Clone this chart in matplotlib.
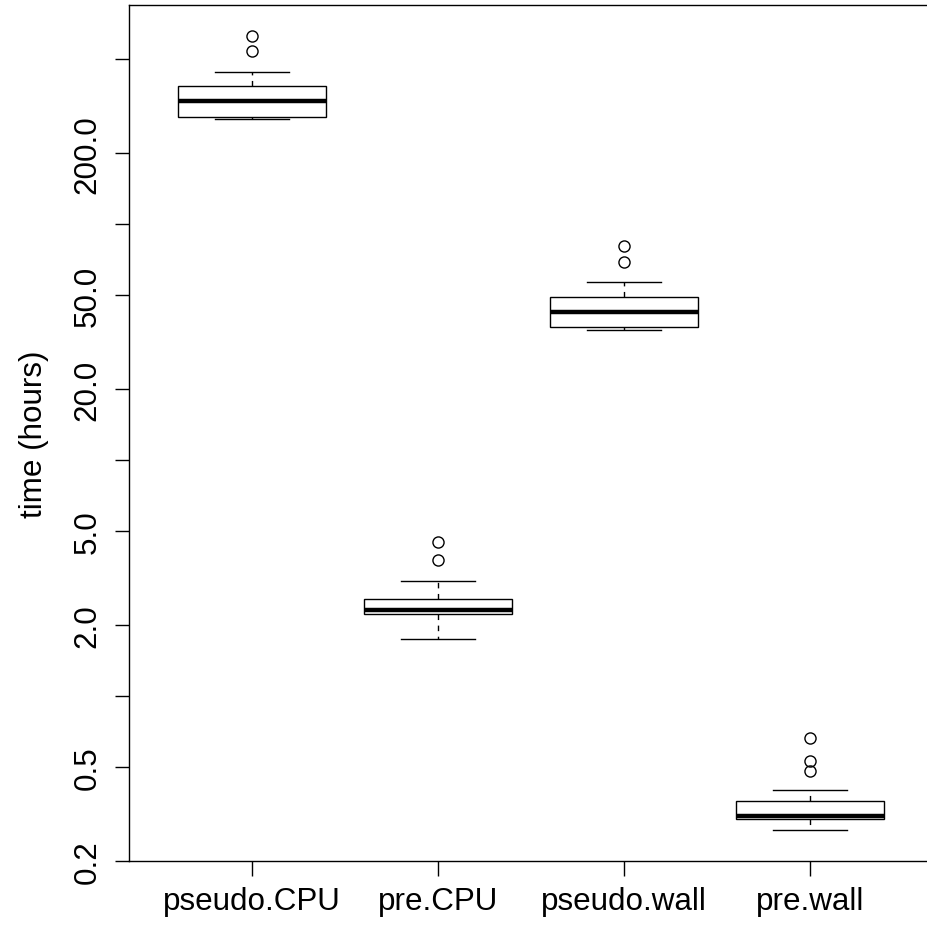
import matplotlib
matplotlib.use("Agg")
import matplotlib.pyplot as plt

plt.rcParams['font.family'] = ['Liberation Sans', 'DejaVu Sans']

groups = ["pseudo.CPU", "pre.CPU", "pseudo.wall", "pre.wall"]
medians = [334, 2.32, 42.5, 0.309]
q1 = [286, 2.23, 36.5, 0.300]
q3 = [386, 2.57, 49.2, 0.358]
whisker_low = [280, 1.74, 35.6, 0.270]
whisker_high = [443, 3.06, 57.1, 0.400]
outliers = [[541, 626], [3.76, 4.49], [69.0, 80.7], [0.481, 0.531, 0.666]]

ytick_vals = [0.2, 0.5, 1, 2, 5, 10, 20, 50, 100, 200, 500]
ytick_labels = ["0.2", "0.5", "", "2.0", "5.0", "", "20.0", "50.0", "", "200.0", ""]

stats = []
for i, name in enumerate(groups):
    stats.append(dict(label=name, med=medians[i], q1=q1[i], q3=q3[i],
                      whislo=whisker_low[i], whishi=whisker_high[i],
                      fliers=outliers[i]))

fig = plt.figure(figsize=(9.27, 9.28), dpi=100)
ax = fig.add_axes([0.1394, 0.0706, 1.0063 - 0.1394, 0.99353 - 0.0706])

ax.bxp(stats, positions=[1, 2, 3, 4], widths=0.8, patch_artist=True,
       boxprops=dict(facecolor='white', edgecolor='black', linewidth=1.0),
       medianprops=dict(color='black', linewidth=3.2, solid_capstyle='butt'),
       whiskerprops=dict(color='black', linewidth=1.0, linestyle=(0, (4, 4))),
       capprops=dict(color='black', linewidth=1.0),
       capwidths=0.4,
       flierprops=dict(marker='o', markerfacecolor='none', markeredgecolor='black',
                       markersize=8, markeredgewidth=1.0, linestyle='none'))

ax.set_yscale('log')
ax.set_ylim(0.1988, 850)
ax.set_xlim(0.34, 4.66)
ax.set_yticks(ytick_vals)
ax.set_yticklabels(ytick_labels, rotation=90, va='center', fontsize=22.6)
ax.minorticks_off()
ax.set_xticks([1, 2, 3, 4])
ax.set_xticklabels(groups, fontsize=22.6)
ax.tick_params(axis='y', direction='out', length=10.4, width=1.0, pad=9)
ax.tick_params(axis='x', direction='out', length=11, width=1.0, pad=7)
ax.set_ylabel("time (hours)", fontsize=22.6, labelpad=17)
for s in ax.spines.values():
    s.set_linewidth(1.0)

fig.savefig("out.png", dpi=100)
